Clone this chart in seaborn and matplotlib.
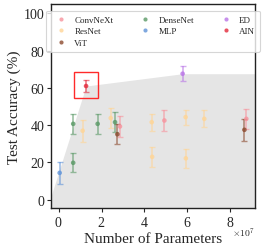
import matplotlib
matplotlib.use("Agg")
import matplotlib.pyplot as plt
import seaborn as sns
import pandas as pd
from matplotlib.patches import Rectangle
from matplotlib.ticker import ScalarFormatter

# ---- data ----
convnext_x = [2.86e7, 4.93e7, 8.75e7]
convnext_y = [39.3, 42.5, 43.4]
convnext_e = [5.8, 5.4, 5.3]

resnet_x = [1.12e7, 2.43e7, 4.34e7, 4.36e7, 5.92e7, 5.93e7, 6.79e7]
resnet_y = [37.0, 43.8, 41.6, 23.0, 44.3, 22.2, 43.4]
resnet_e = [5.8, 5.5, 4.5, 5.2, 4.0, 5.0, 4.5]

vit_x = [2.74e7, 8.66e7]
vit_y = [35.1, 37.5]
vit_e = [5.4, 5.8]

densenet_x = [0.68e7, 0.68e7, 1.82e7, 2.63e7]
densenet_y = [19.8, 40.7, 40.7, 41.6]
densenet_e = [5.0, 5.5, 5.5, 5.4]

mlp_x = [0.05e7]
mlp_y = [14.4]
mlp_e = [6.0]

ed_x = [5.78e7]
ed_y = [67.6]
ed_e = [4.0]

ain_x = [1.28e7]
ain_y = [61.0]
ain_e = [3.3]

families = ["ConvNeXt", "ResNet", "ViT", "DenseNet", "MLP", "ED", "AIN"]
series = {
    "ConvNeXt": (convnext_x, convnext_y, convnext_e),
    "ResNet": (resnet_x, resnet_y, resnet_e),
    "ViT": (vit_x, vit_y, vit_e),
    "DenseNet": (densenet_x, densenet_y, densenet_e),
    "MLP": (mlp_x, mlp_y, mlp_e),
    "ED": (ed_x, ed_y, ed_e),
    "AIN": (ain_x, ain_y, ain_e),
}
colors = {
    "ConvNeXt": "#f7939d",
    "ResNet": "#ffd596",
    "ViT": "#8c4a2e",
    "DenseNet": "#5a9966",
    "MLP": "#5f93d8",
    "ED": "#b975e6",
    "AIN": "#e3283a",
}

# frontier of the shaded region at the left edge
front_y_left = 2.0

rows = []
for f in families:
    xs, ys, es = series[f]
    for x, y, e in zip(xs, ys, es):
        rows.append({"family": f, "params": x, "acc": y, "err": e})
df = pd.DataFrame(rows)

sns.set_style("ticks")
plt.rcParams["font.family"] = ["Liberation Serif", "DejaVu Serif"]
plt.rcParams["mathtext.fontset"] = "cm"

fig = plt.figure(figsize=(2.62, 2.51), dpi=100)
ax = fig.add_axes([0.195, 0.167, 0.778, 0.813])

xmin, xmax = -0.35e7, 9.15e7
ymin, ymax = -4.5, 105

# shaded region
fx = [xmin, ain_x[0], ed_x[0], xmax]
fy = [front_y_left, ain_y[0], ed_y[0], ed_y[0]]
ax.fill_between(fx, fy, ymin, color="#e5e5e5", lw=0, zorder=0)

for f in families:
    d = df[df.family == f]
    ax.errorbar(d.params, d.acc, yerr=d.err, fmt="none", ecolor=colors[f],
                elinewidth=1.2, capsize=2.2, capthick=1.0, alpha=0.6, zorder=2)

sns.scatterplot(data=df, x="params", y="acc", hue="family", hue_order=families,
                palette=colors, s=11, edgecolor="none", alpha=0.8, ax=ax, zorder=3)

# highlight box around AIN
ax.add_patch(Rectangle((ain_x[0] - 0.56e7, ain_y[0] - 6.3), 1.12e7, 13.8,
                       fill=False, edgecolor="#ff2a2a", lw=1.0, zorder=4))

ax.set_xlim(xmin, xmax)
ax.set_ylim(ymin, ymax)
fmt = ScalarFormatter(useMathText=True)
fmt.set_powerlimits((0, 0))
ax.xaxis.set_major_formatter(fmt)
ax.set_xticks([0, 2e7, 4e7, 6e7, 8e7])
ax.set_yticks([0, 20, 40, 60, 80, 100])
ax.tick_params(labelsize=10, length=3, width=0.8, pad=2)
ax.xaxis.get_offset_text().set_visible(False)
fig.text(0.975, 0.072, r"$\times10^{7}$", fontsize=7, ha="right", va="center")
ax.set_xlabel("Number of Parameters", fontsize=11, labelpad=2)
ax.set_ylabel("Test Accuracy (%)", fontsize=11, labelpad=2)
for s in ax.spines.values():
    s.set_color("#222222")
    s.set_linewidth(1.0)

leg = ax.legend(loc="upper center", ncol=3, fontsize=6.5, frameon=True,
                bbox_to_anchor=(0.5, 0.99), handletextpad=0.4,
                columnspacing=2.4, borderpad=0.55, labelspacing=0.35,
                markerscale=0.9, handlelength=2.2)
leg.get_frame().set_edgecolor("#cccccc")
leg.get_frame().set_linewidth(0.8)
for h in leg.legend_handles:
    h.set_alpha(0.8)

fig.savefig("out.png", dpi=100)
